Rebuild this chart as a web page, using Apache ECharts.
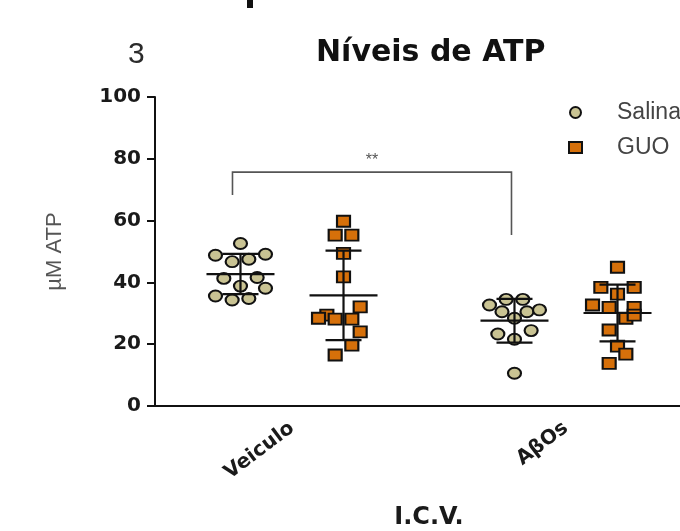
<!DOCTYPE html>
<html><head><meta charset="utf-8">
<script src="https://cdn.jsdelivr.net/npm/echarts@6/dist/echarts.min.js"></script>
<style>html,body{margin:0;padding:0;background:#fff}#c{width:680px;height:531px}</style>
</head><body><div id="c"></div>
<script>
// ---- data ----
const categories = ['Veiculo', 'AβOs'];
const seriesNames = ['Salina', 'GUO'];
const yTicks = [0, 20, 40, 60, 80, 100];

// individual points (µM ATP) and their horizontal jitter slot (column index)
const salinaVeiculo     = [52.6, 48.8, 46.7, 47.5, 49.1, 41.3, 41.6, 38.8, 38.1, 35.6, 34.3, 34.8];
const salinaVeiculoSlot = [0, -3, -1, 1, 3, -2, 2, 0, 3, -3, -1, 1];
const guoVeiculo        = [59.8, 55.3, 55.3, 49.4, 41.8, 32.1, 29.4, 28.4, 28.1, 28.1, 24.0, 19.7, 16.5];
const guoVeiculoSlot    = [0, -1, 1, 0, 0, 2, -2, -3, -1, 1, 2, 1, -1];
const salinaAbos        = [34.5, 34.5, 32.7, 30.5, 30.5, 31.1, 28.4, 23.3, 24.4, 21.6, 10.6];
const salinaAbosSlot    = [-1, 1, -3, -1.5, 1.5, 3, 0, -2, 2, 0, 0];
const guoAbos           = [44.9, 38.4, 38.4, 36.2, 32.7, 31.9, 31.9, 28.4, 29.4, 24.6, 19.4, 16.8, 13.8];
const guoAbosSlot       = [0, -2, 2, 0, -3, -1, 2, 1, 2, -1, 0, 1, -1];

// mean ± SD per category
const salinaMean = [42.7, 27.6];
const salinaSD   = [6.5, 7.1];
const guoMean    = [35.8, 30.1];
const guoSD      = [14.5, 9.2];

// significance bracket: top level, left leg end, right leg end
const bracketLevels = [75.7, 68.3, 55.3];
const bracketLabel = '**';

// ---- layout constants ----
const seriesOffset = [-0.188, 0.188];
const slotWidth = 0.0304;

function pts(vals, slots, g, s) {
  return vals.map((v, i) => [g + seriesOffset[s] + slots[i] * slotWidth, v]);
}
const salinaPts = pts(salinaVeiculo, salinaVeiculoSlot, 0, 0).concat(pts(salinaAbos, salinaAbosSlot, 1, 0));
const guoPts = pts(guoVeiculo, guoVeiculoSlot, 0, 1).concat(pts(guoAbos, guoAbosSlot, 1, 1));

function errData(means, sds, s) {
  return means.map((m, g) => [g + seriesOffset[s], m, sds[g]]);
}

function renderErr(params, api) {
  const x = api.value(0), m = api.value(1), sd = api.value(2);
  const c = api.coord([x, m]);
  const t = api.coord([x, m + sd]);
  const b = api.coord([x, m - sd]);
  const hw = 34, cw = 18;
  const style = { stroke: '#111', lineWidth: 2.2 };
  return { type: 'group', children: [
    { type: 'line', shape: { x1: c[0], y1: t[1], x2: c[0], y2: b[1] }, style },
    { type: 'line', shape: { x1: c[0] - hw, y1: c[1], x2: c[0] + hw, y2: c[1] }, style },
    { type: 'line', shape: { x1: c[0] - cw, y1: t[1], x2: c[0] + cw, y2: t[1] }, style },
    { type: 'line', shape: { x1: c[0] - cw, y1: b[1], x2: c[0] + cw, y2: b[1] }, style }
  ]};
}

function renderBracket(params, api) {
  const xl = api.value(0), xr = api.value(1);
  const top = api.coord([xl, api.value(2)]);
  const le = api.coord([xl, api.value(3)]);
  const re = api.coord([xr, api.value(4)]);
  const x1 = top[0] - 8, x2 = api.coord([xr, 0])[0] - 3;
  const style = { stroke: '#555', lineWidth: 1.6, fill: null };
  return { type: 'group', children: [
    { type: 'polyline', shape: { points: [[x1, le[1]], [x1, top[1]], [x2, top[1]], [x2, re[1]]] }, style },
    { type: 'text', style: { text: bracketLabel, x: (x1 + x2) / 2, y: top[1] - 3, align: 'center', verticalAlign: 'bottom',
      fill: '#555', font: '16px "Liberation Sans", Arial, sans-serif' } }
  ]};
}

const chart = echarts.init(document.getElementById('c'), null, { renderer: 'canvas' });
chart.setOption({
  animation: false,
  backgroundColor: '#fff',
  title: {
    text: 'Níveis de ATP', left: 311, top: 33,
    textStyle: { fontFamily: 'DejaVu Sans', fontWeight: 'bold', fontSize: 30, color: '#111' }
  },
  graphic: [
    { type: 'text', left: 128, top: 40, style: { text: '3', fill: '#2b2b2b', font: '30px "Liberation Sans", Arial, sans-serif' } },
    { type: 'rect', left: 247, top: 0, shape: { width: 6, height: 8 }, style: { fill: '#111' } }
  ],
  legend: {
    orient: 'vertical', left: 563, top: 96, itemGap: 12,
    itemWidth: 13, itemHeight: 11,
    data: seriesNames,
    textStyle: { fontFamily: 'Liberation Sans', fontSize: 23, color: '#444', padding: [0, 0, 0, 30] }
  },
  grid: { left: 155, top: 97, width: 548, height: 309, containLabel: false, outerBoundsMode: 'none' },
  xAxis: [
    {
      type: 'category', data: categories, boundaryGap: true,
      axisLine: { onZero: false, lineStyle: { color: '#111', width: 2 } },
      axisTick: { alignWithLabel: true, length: 6, lineStyle: { color: '#111', width: 2 } },
      axisLabel: { rotate: 37, margin: 20, fontFamily: 'DejaVu Sans', fontWeight: 'bold', fontSize: 20, color: '#1a1a1a' },
      name: 'I.C.V.', nameLocation: 'middle', nameGap: 100,
      nameTextStyle: { fontFamily: 'DejaVu Sans', fontWeight: 'bold', fontSize: 24, color: '#1a1a1a' },
      splitLine: { show: false }
    },
    { type: 'value', min: -0.5, max: 1.5, show: false, splitLine: { show: false } }
  ],
  yAxis: {
    type: 'value', min: yTicks[0], max: yTicks[yTicks.length - 1], interval: yTicks[1] - yTicks[0],
    axisLine: { show: true, onZero: false, lineStyle: { color: '#111', width: 2 } },
    axisTick: { show: true, length: 8, lineStyle: { color: '#111', width: 2 } },
    axisLabel: { margin: 14, fontFamily: 'DejaVu Sans', fontWeight: 'bold', fontSize: 20, color: '#1a1a1a' },
    splitLine: { show: false },
    name: 'µM ATP', nameLocation: 'middle', nameGap: 89,
    nameTextStyle: { fontFamily: 'Liberation Sans', fontSize: 22, color: '#555' }
  },
  series: [
    { name: seriesNames[0], type: 'scatter', xAxisIndex: 1, data: salinaPts, symbol: 'circle', symbolSize: [13, 11],
      itemStyle: { color: '#c9c393', borderColor: '#111', borderWidth: 2, opacity: 1 }, z: 2 },
    { name: seriesNames[1], type: 'scatter', xAxisIndex: 1, data: guoPts, symbol: 'rect', symbolSize: [13, 11],
      itemStyle: { color: '#d6700a', borderColor: '#111', borderWidth: 2, opacity: 1 }, z: 2 },
    { type: 'custom', xAxisIndex: 1, data: errData(salinaMean, salinaSD, 0), renderItem: renderErr, encode: { x: 0, y: 1 }, z: 3, silent: true },
    { type: 'custom', xAxisIndex: 1, data: errData(guoMean, guoSD, 1), renderItem: renderErr, encode: { x: 0, y: 1 }, z: 3, silent: true },
    { type: 'custom', xAxisIndex: 1,
      data: [[0 + seriesOffset[0], 1 + seriesOffset[0], bracketLevels[0], bracketLevels[1], bracketLevels[2]]],
      renderItem: renderBracket, encode: { x: [0, 1], y: [2, 3, 4] }, z: 3, silent: true }
  ]
});
</script></body></html>
